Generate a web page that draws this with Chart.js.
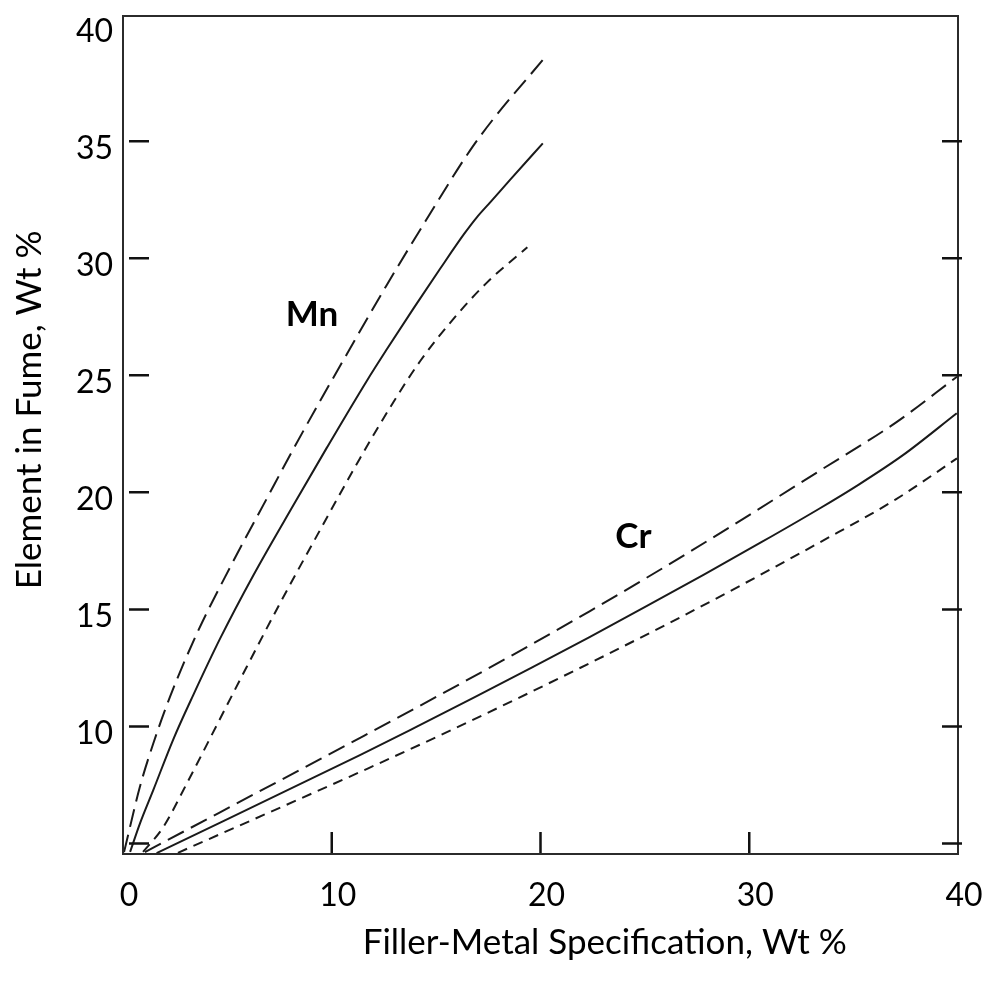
<!DOCTYPE html>
<html>
<head>
<meta charset="utf-8">
<title>Element in Fume vs Filler-Metal Specification</title>
<script src="https://cdn.jsdelivr.net/npm/chart.js@4.4.1/dist/chart.umd.min.js"></script>
<style>
  html, body { margin: 0; padding: 0; background: #fff; }
  #fumeChart { display: block; }
</style>
</head>
<body>
<canvas id="fumeChart" width="997" height="984"></canvas>
<script>
// Mn curves: filler-metal spec (wt %) vs element in fume (wt %)
const mnUpperX = [0.05, 0.81, 1.45, 2.25, 3.53, 5.13, 6.88, 8.16, 9.44, 10.72, 12.63, 14.50, 16.62, 17.74, 20.11];
const mnUpperY = [4.63, 7.42, 9.27, 11.26, 13.95, 16.80, 19.72, 21.85, 23.90, 25.90, 28.85, 31.60, 34.60, 35.95, 38.47];

const mnMeanX = [0.34, 0.81, 1.45, 2.41, 3.37, 4.65, 6.24, 8.16, 9.76, 11.67, 12.63, 13.91, 15.19, 16.35, 16.95, 17.60, 18.54, 20.11];
const mnMeanY = [4.64, 5.85, 7.28, 9.45, 11.35, 13.75, 16.45, 19.45, 21.90, 24.75, 26.10, 27.85, 29.55, 31.05, 31.75, 32.40, 33.35, 34.91];

const mnLowerX = [0.96, 1.93, 3.05, 4.49, 5.93, 7.52, 9.44, 11.35, 12.95, 14.23, 15.82, 17.42, 19.37];
const mnLowerY = [4.64, 5.70, 7.55, 10.05, 12.55, 15.26, 18.39, 21.45, 23.85, 25.60, 27.40, 28.95, 30.47];

// Cr curves
const crUpperX = [1.05, 11.54, 15.02, 18.68, 22.35, 26.02, 29.69, 33.35, 37.02, 39.95];
const crUpperY = [4.63, 9.60, 11.27, 13.06, 14.92, 16.85, 18.86, 20.91, 22.98, 24.94];

const crMeanX = [1.61, 11.35, 14.10, 16.85, 19.60, 22.35, 25.10, 27.85, 30.60, 33.35, 35.19, 37.38, 39.94];
const crMeanY = [4.59, 8.77, 10.00, 11.25, 12.52, 13.82, 15.15, 16.50, 17.88, 19.30, 20.30, 21.60, 23.38];

const crLowerX = [2.63, 11.72, 15.02, 18.68, 22.35, 26.02, 29.69, 33.35, 37.02, 39.95];
const crLowerY = [4.60, 8.20, 9.55, 11.10, 12.70, 14.35, 16.07, 17.85, 19.70, 21.45];

// Axis ticks
const xTicks = [0, 10, 20, 30, 40];
const yTicks = [5, 10, 15, 20, 25, 30, 35, 40];
const yTickLabels = ['', '10', '15', '20', '25', '30', '35', '40'];

// Curve names, placed in data units
const curveLabels = [
    { text: 'Mn', x: 9.05, y: 27.6 },
    { text: 'Cr', x: 24.45, y: 18.1 }
];

const xTitle = 'Filler-Metal Specification, Wt %';
const yTitle = 'Element in Fume, Wt %';

const FONT = 'Lato, "Open Sans", sans-serif';
const LONG_DASH = [18, 8];
const SHORT_DASH = [10, 7];

function toPoints(xs, ys) {
    return xs.map((v, i) => ({ x: v, y: ys[i] }));
}

function curve(label, xs, ys, dash) {
    return {
        label: label,
        data: toPoints(xs, ys),
        borderColor: '#1a1a1a',
        borderWidth: 2,
        borderDash: dash,
        pointRadius: 0,
        fill: false,
        cubicInterpolationMode: 'monotone'
    };
}

// Box frame, inward tick marks, curve names and axis titles
const frameAndTicks = {
    id: 'frameAndTicks',
    afterDatasetsDraw(chart) {
        const { ctx, chartArea: a, scales: { x, y } } = chart;
        ctx.save();
        ctx.strokeStyle = '#2b2b2b';
        ctx.lineWidth = 2;
        ctx.strokeRect(a.left, a.top, a.right - a.left, a.bottom - a.top);

        ctx.strokeStyle = '#111';
        ctx.lineWidth = 2.5;
        ctx.beginPath();
        yTicks.slice(0, -1).forEach(v => {
            const py = y.getPixelForValue(v);
            ctx.moveTo(a.left + 6, py);
            ctx.lineTo(a.left + 26, py);
            ctx.moveTo(a.right - 16, py);
            ctx.lineTo(a.right + 4, py);
        });
        xTicks.slice(1, -1).forEach(v => {
            const px = x.getPixelForValue(v);
            ctx.moveTo(px, a.bottom - 22);
            ctx.lineTo(px, a.bottom - 1);
        });
        ctx.stroke();

        ctx.fillStyle = '#000';
        ctx.textAlign = 'center';
        ctx.textBaseline = 'middle';
        ctx.font = 'bold 35px ' + FONT;
        curveLabels.forEach(l => {
            ctx.fillText(l.text, x.getPixelForValue(l.x), y.getPixelForValue(l.y));
        });

        // axis titles
        ctx.font = '35px ' + FONT;
        ctx.fillText(xTitle, a.left + (a.right - a.left) * 0.577, 943);
        ctx.translate(30, a.top + (a.bottom - a.top) * 0.47);
        ctx.rotate(-Math.PI / 2);
        ctx.fillText(yTitle, 0, 0);
        ctx.restore();
    }
};

const ctx = document.getElementById('fumeChart').getContext('2d');

new Chart(ctx, {
    type: 'line',
    data: {
        datasets: [
            curve('Mn upper', mnUpperX, mnUpperY, LONG_DASH),
            curve('Mn', mnMeanX, mnMeanY, []),
            curve('Mn lower', mnLowerX, mnLowerY, SHORT_DASH),
            curve('Cr upper', crUpperX, crUpperY, LONG_DASH),
            curve('Cr', crMeanX, crMeanY, []),
            curve('Cr lower', crLowerX, crLowerY, SHORT_DASH)
        ]
    },
    options: {
        responsive: false,
        animation: false,
        layout: {
            padding: { top: 16, right: 39, bottom: 0, left: 0 }
        },
        plugins: {
            legend: { display: false },
            tooltip: { enabled: false }
        },
        scales: {
            x: {
                type: 'linear',
                min: 0,
                max: 40,
                afterBuildTicks: s => { s.ticks = xTicks.map(v => ({ value: v })); },
                afterFit: s => {
                    s.height = 130;
                    s.paddingLeft = 0;
                    s.paddingRight = 0;
                },
                grid: { display: false, drawTicks: false },
                border: { display: false },
                ticks: {
                    color: '#000',
                    padding: 22,
                    labelOffset: 6,
                    maxRotation: 0,
                    font: { family: FONT, size: 32 }
                }
            },
            y: {
                type: 'linear',
                min: 4.55,
                max: 40.35,
                afterBuildTicks: s => { s.ticks = yTicks.map(v => ({ value: v })); },
                afterFit: s => {
                    s.width = 123;
                    s.paddingTop = 0;
                    s.paddingBottom = 0;
                },
                grid: { display: false, drawTicks: false },
                border: { display: false },
                ticks: {
                    color: '#000',
                    padding: 10,
                    labelOffset: 7,
                    font: { family: FONT, size: 32 },
                    callback: (value, index) => yTickLabels[index]
                }
            }
        }
    },
    plugins: [frameAndTicks]
});
</script>
</body>
</html>
